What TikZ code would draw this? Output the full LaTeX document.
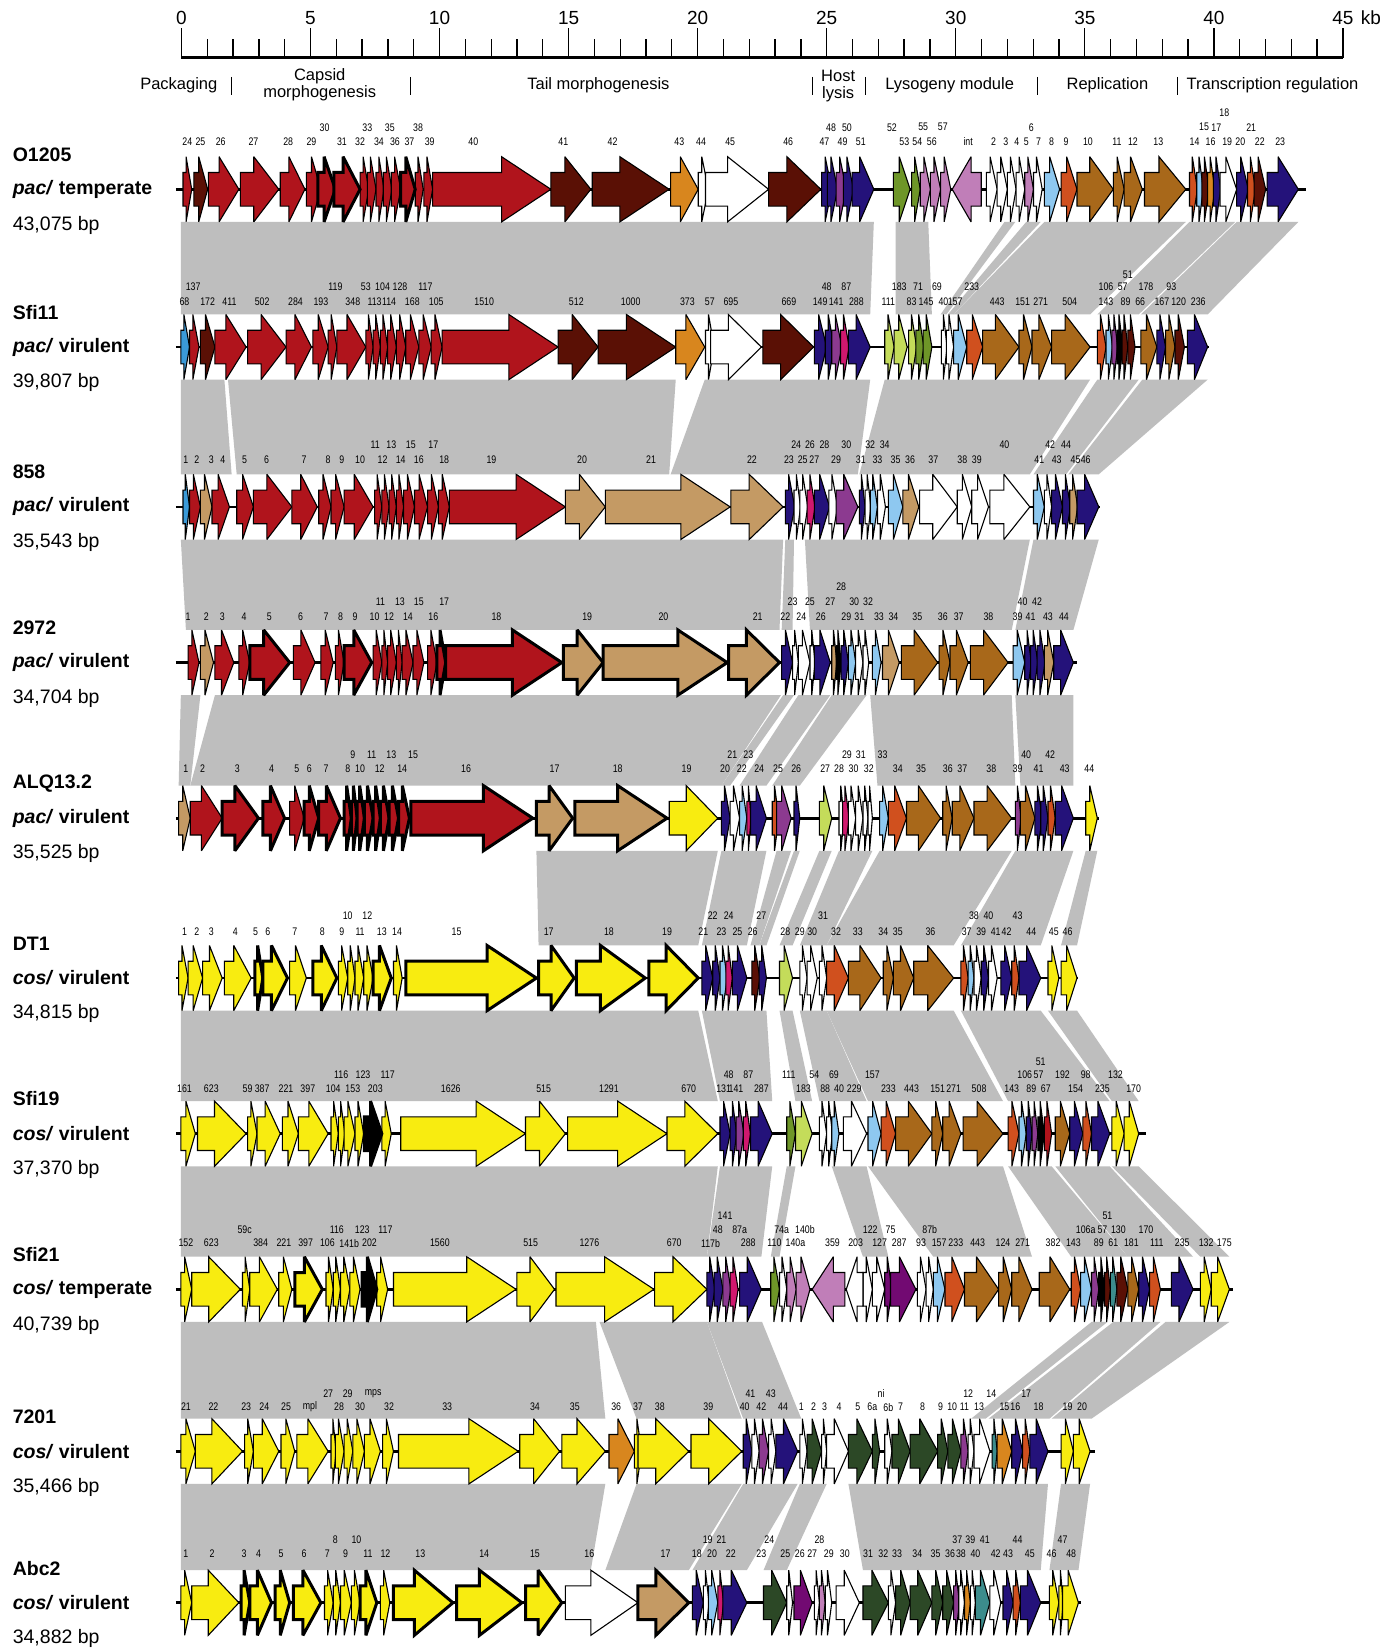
\documentclass[tikz,border=0pt]{standalone}
\usepackage{fontspec}
\setmainfont{Liberation Sans}
\newfontfamily\nfont[FakeStretch=0.8]{Liberation Sans}
\definecolor{cRed}{HTML}{B0141C}
\definecolor{cDred}{HTML}{5A1005}
\definecolor{cOra}{HTML}{D8861E}
\definecolor{cNavy}{HTML}{24127A}
\definecolor{cPur}{HTML}{8C3A90}
\definecolor{cHot}{HTML}{D0186E}
\definecolor{cOli}{HTML}{6E9628}
\definecolor{cLgr}{HTML}{C4DC5A}
\definecolor{cPink}{HTML}{C07EB8}
\definecolor{cLbl}{HTML}{8EC8F0}
\definecolor{cOrr}{HTML}{D0501E}
\definecolor{cBrn}{HTML}{A8681A}
\definecolor{cTan}{HTML}{C49A64}
\definecolor{cYel}{HTML}{F8EC10}
\definecolor{cDgr}{HTML}{2C4826}
\definecolor{cDpur}{HTML}{720A72}
\definecolor{cTeal}{HTML}{3C8C8C}
\definecolor{cBlu}{HTML}{3A9AD8}
\definecolor{cBand}{HTML}{BEBEBE}
\tikzset{
 gene/.style={line width=1.1pt, line join=miter, miter limit=3},
 tgene/.style={line width=3pt, line join=miter, miter limit=3},
 bbone/.style={line width=2.6pt},
 lbl/.style={font=\nfont\fontsize{11}{11}\selectfont, inner sep=0pt},
 rname/.style={anchor=west, inner sep=0pt, font=\fontsize{19.5}{20}\selectfont\bfseries},
 rsize/.style={anchor=west, inner sep=0pt, font=\fontsize{19.5}{20}\selectfont},
 modl/.style={inner sep=0pt, align=center, font=\fontsize{16.5}{17}\selectfont},
 scl/.style={inner sep=0pt, font=\fontsize{19}{19}\selectfont},
}
\newcommand\geneR[4][gene]{%
 \pgfmathsetmacro\gH{min(0.65*(#3-#2),68)}%
 \pgfmathsetmacro\gB{#3-\gH}%
 \draw[#1, fill=#4] (#2,-16) -- (\gB,-16) -- (\gB,-31) -- (#3,0) -- (\gB,31) -- (\gB,16) -- (#2,16) -- cycle;}
\newcommand\geneL[3]{%
 \pgfmathsetmacro\gH{min(0.65*(#2-#1),68)}%
 \pgfmathsetmacro\gB{#1+\gH}%
 \draw[gene, fill=#3] (#2,-16) -- (\gB,-16) -- (\gB,-31) -- (#1,0) -- (\gB,31) -- (\gB,16) -- (#2,16) -- cycle;}
\newcommand\band[6]{\fill[cBand] (#3,#1) -- (#4,#1) -- (#6,#2) -- (#5,#2) -- cycle;}
\newcommand\labs[3]{\foreach \lx/\lt in {#3} {\node[lbl] at (\lx,#1) {\lt};}}
\begin{document}
\begin{tikzpicture}[x=1.0519pt, y=-1.0519pt]
\fill[white] (0,0) rectangle (1329,1568);
\useasboundingbox (0,0) rectangle (1329,1568);
% row names
\foreach \R/\nm/\ty/\ls/\sz in {180/O1205/pac/temperate/{43,075 bp}, 330/Sfi11/pac/virulent/{39,807 bp}, 482/858/pac/virulent/{35,543 bp}, 630/2972/pac/virulent/{34,704 bp}, 778/ALQ13.2/pac/virulent/{35,525 bp}, 930/DT1/cos/virulent/{34,815 bp}, 1078/Sfi19/cos/virulent/{37,370 bp}, 1226/Sfi21/cos/temperate/{40,739 bp}, 1380/7201/cos/virulent/{35,466 bp}, 1524/Abc2/cos/virulent/{34,882 bp}} {
 \node[rname] (n\nm) at (12,\R-33) {\nm};
 \node[rname] (t\nm) at (12,\R) {\textit{\ty/} \ls};
 \node[rsize] (s\nm) at (12,\R+34) {\sz};
}
% module labels
\node[modl] (mPack) at (170,81) {Packaging};
\node[modl] (mCaps) at (304,81) {Capsid\\morphogenesis};
\node[modl] (mTail) at (569,81) {Tail morphogenesis};
\node[modl] (mHost) at (797,82) {Host\\lysis};
\node[modl] (mLys) at (903,81) {Lysogeny module};
\node[modl] (mRep) at (1053,81) {Replication};
\node[modl] (mTr) at (1210,81) {Transcription regulation};
\foreach \sx in {220,390,773,823,987,1120} {\draw[line width=1pt] (\sx,73) -- (\sx,90);}
\begin{scope}[shift={(161.6,0)}, xscale=0.69]
% scale bar
\draw[line width=3.2pt] (15.8,55) -- (1616.5,55);
\foreach \k in {0,...,45} {
 \pgfmathsetmacro\kx{15.8+35.57*\k}
 \pgfmathtruncatemacro\km{mod(\k,5)}
 \ifnum\km=0 \draw[line width=1.3pt] (\kx,55) -- (\kx,27);
 \else \draw[line width=1.3pt] (\kx,55) -- (\kx,37); \fi
}
\foreach \k in {0,5,...,45} {\node[scl] at (15.8+35.57*\k,17) {\k};}
\node[scl, anchor=west] at (1641,17) {kb};
% ---------------- bands
\foreach \pa/\pb/\pc/\pd in {15/970/15/965, 1000/1045/1000/1050, 1150/1165/1062/1070, 1180/1200/1072/1080, 1205/1400/1080/1268, 1405/1468/1278/1335, 1470/1555/1338/1430} {\band{211}{299}{\pa}{\pb}{\pc}{\pd}}
\foreach \pa/\pb/\pc/\pd in {15/75/15/85, 80/697/92/688, 737/965/690/948, 985/1268/950/1185, 1278/1335/1190/1235, 1340/1430/1238/1280} {\band{361}{451}{\pa}{\pb}{\pc}{\pd}}
\foreach \pa/\pb/\pc/\pd in {15/845/22/840, 848/860/843/858, 875/1185/882/1160, 1190/1280/1165/1245} {\band{513}{599}{\pa}{\pb}{\pc}{\pd}}
\foreach \pa/\pb/\pc/\pd in {15/42/12/28, 62/842/28/760, 845/860/760/772, 866/910/785/822, 912/960/830/868, 965/1160/975/1165, 1165/1245/1172/1245} {\band{661}{747}{\pa}{\pb}{\pc}{\pd}}
\foreach \pa/\pb/\pc/\pd in {505/755/508/728, 760/822/733/795, 836/856/800/812, 860/868/812/822, 895/912/840/858, 922/968/868/905, 978/1160/905/1080, 1165/1245/1090/1200, 1262/1278/1228/1250} {\band{809}{899}{\pa}{\pb}{\pc}{\pd}}
\foreach \pa/\pb/\pc/\pd in {15/728/15/755, 733/822/758/830, 840/858/862/885, 868/905/895/960, 905/1080/962/1148, 1090/1200/1155/1295, 1210/1250/1298/1335} {\band{961}{1047}{\pa}{\pb}{\pc}{\pd}}
\foreach \pa/\pb/\pc/\pd in {15/755/15/740, 758/830/740/815, 850/862/828/840, 912/960/955/990, 962/1148/1052/1188, 1155/1215/1242/1320, 1220/1295/1320/1410, 1298/1335/1420/1460} {\band{1109}{1195}{\pa}{\pb}{\pc}{\pd}}
\foreach \pa/\pb/\pc/\pd in {15/587/15/600, 592/740/643/788, 740/816/790/870, 1270/1292/1104/1124, 1300/1365/1128/1212, 1372/1460/1215/1270} {\band{1257}{1349}{\pa}{\pb}{\pc}{\pd}}
\foreach \pa/\pb/\pc/\pd in {15/600/15/580, 643/788/600/715, 790/865/720/795, 868/905/818/850, 935/1210/955/1200, 1228/1268/1212/1252} {\band{1411}{1493}{\pa}{\pb}{\pc}{\pd}}
% ---------------- Row 1 O1205
\begin{scope}[shift={(0,180)}]
\draw[bbone] (8,0) -- (1565,0);
\foreach \s/\e/\cl in {18/30/cRed, 33/52/cDred, 53/95/cRed, 97/150/cRed, 152/186/cRed, 188/208/cRed, 262/274/cRed, 272/284/cRed, 284/295/cRed, 294/306/cRed, 305/318/cRed, 338/349/cRed, 350/362/cRed, 362/525/cRed, 525/580/cDred, 582/688/cDred, 690/728/cOra, 728/742/white, 738/825/white, 825/897/cDred, 898/912/cNavy, 906/920/cNavy, 918/932/cPur, 928/942/cNavy, 940/970/cNavy, 997/1020/cOli, 1022/1034/cOli, 1034/1048/cPink, 1048/1062/cPink, 1062/1076/cPink, 1125/1140/white, 1140/1154/white, 1154/1166/white, 1166/1178/white, 1178/1190/cPink, 1190/1202/white, 1205/1226/cLbl, 1228/1250/cOrr, 1250/1300/cBrn, 1300/1315/cBrn, 1315/1340/cBrn, 1343/1400/cBrn, 1405/1416/cOrr, 1415/1424/cLbl, 1422/1432/cDred, 1430/1440/cOra, 1438/1448/cNavy, 1447/1470/white, 1470/1486/cNavy, 1485/1496/cOrr, 1494/1510/cDred, 1512/1555/cNavy} {\geneR{\s}{\e}{\cl}}
\geneL{1078}{1118}{cPink}
\foreach \s/\e/\cl in {204/228/cRed, 226/262/cRed, 318/338/cRed} {\geneR[tgene]{\s}{\e}{\cl}}
\labs{-45}{}{24/24, 42/25, 70/26, 115/27, 163/28, 195/29, 237/31, 262/32, 288/34, 310/36, 330/37, 358/39, 418/40, 542/41, 610/42, 702/43, 732/44, 772/45, 852/46, 902/47, 927/49, 952/51, 1012/53, 1030/54, 1050/56, 1100/int, 1135/2, 1152/3, 1167/4, 1180/5, 1197/7, 1215/8, 1235/9, 1265/10, 1305/11, 1327/12, 1362/13, 1412/14, 1434/16, 1457/19, 1475/20, 1502/22, 1530/23}
\labs{-59}{}{213/30, 272/33, 303/35, 342/38, 911/48, 933/50, 995/52, 1038/55, 1065/57, 1187/6, 1425/15, 1442/17, 1490/21}
\labs{-73}{}{1453/18}
\end{scope}
% ---------------- Row 2 Sfi11
\begin{scope}[shift={(0,330)}]
\draw[bbone] (8,0) -- (1432,0);
\foreach \s/\e/\cl in {15/27/cBlu, 27/40/cRed, 42/62/cDred, 62/105/cRed, 107/160/cRed, 160/195/cRed, 197/218/cRed, 218/230/cRed, 230/270/cRed, 270/280/cRed, 280/290/cRed, 290/300/cRed, 300/312/cRed, 312/325/cRed, 325/343/cRed, 343/360/cRed, 360/375/cRed, 375/535/cRed, 535/590/cDred, 590/697/cDred, 697/737/cOra, 738/750/white, 745/815/white, 817/887/cDred, 888/905/cNavy, 903/915/cNavy, 912/926/cPur, 924/936/cHot, 935/965/cNavy, 985/998/cLgr, 998/1016/cLgr, 1018/1029/cLgr, 1028/1039/cOli, 1038/1050/cOli, 1063/1071/white, 1070/1080/white, 1080/1098/cLbl, 1098/1120/cOrr, 1120/1170/cBrn, 1170/1188/cBrn, 1188/1215/cBrn, 1215/1268/cBrn, 1278/1290/cOrr, 1290/1299/cLbl, 1298/1306/cPur, 1305/1313/black, 1312/1320/cDred, 1320/1330/cDred, 1338/1360/cBrn, 1360/1372/cNavy, 1372/1385/cBrn, 1385/1398/cDred, 1402/1430/cNavy} {\geneR{\s}{\e}{\cl}}
\labs{-43}{}{20/68, 52/172, 82/411, 127/502, 173/284, 208/193, 252/348, 282/113, 302/114, 334/168, 367/105, 433/1510, 560/512, 635/1000, 713/373, 744/57, 773/695, 853/669, 896/149, 918/141, 946/288, 990/111, 1022/83, 1042/145, 1066/40, 1082/157, 1140/443, 1175/151, 1200/271, 1240/504, 1290/143, 1317/89, 1337/66, 1367/167, 1390/120, 1417/236}
\labs{-57}{}{32/137, 228/119, 270/53, 293/104, 317/128, 352/117, 905/48, 932/87, 1005/183, 1031/71, 1057/69, 1105/233, 1290/106, 1313/57, 1345/178, 1380/93}
\labs{-69}{}{1320/51}
\end{scope}
% ---------------- Row 3 858
\begin{scope}[shift={(0,482)}]
\draw[bbone] (8,0) -- (1282,0);
\foreach \s/\e/\cl in {18/27/cBlu, 27/42/cRed, 42/58/cTan, 58/82/cRed, 92/115/cRed, 115/168/cRed, 168/203/cRed, 205/222/cRed, 222/240/cRed, 240/280/cRed, 282/292/cRed, 292/302/cRed, 302/312/cRed, 312/322/cRed, 322/337/cRed, 337/355/cRed, 355/370/cRed, 370/385/cRed, 385/545/cRed, 545/600/cTan, 600/772/cTan, 773/845/cTan, 848/861/cNavy, 860/869/white, 868/879/white, 878/889/cHot, 888/909/cNavy, 908/920/white, 918/948/cPur, 950/958/cNavy, 958/966/white, 965/975/cLbl, 975/986/white, 990/1010/cLbl, 1010/1032/cTan, 1033/1085/white, 1085/1105/white, 1105/1128/white, 1130/1185/white, 1190/1205/cLbl, 1205/1215/white, 1215/1230/cNavy, 1230/1241/cNavy, 1240/1251/cTan, 1250/1280/cNavy} {\geneR{\s}{\e}{\cl}}
\labs{-45}{}{22/1, 37/2, 57/3, 73/4, 103/5, 133/6, 185/7, 218/8, 237/9, 262/10, 293/12, 318/14, 343/16, 378/18, 443/19, 568/20, 663/21, 802/22, 853/23, 872/25, 888/27, 918/29, 952/31, 975/33, 1000/35, 1020/36, 1052/37, 1092/38, 1112/39, 1198/41, 1222/43, 1248/45, 1262/46}
\labs{-59}{}{283/11, 305/13, 332/15, 363/17, 863/24, 882/26, 902/28, 932/30, 965/32, 985/34, 1150/40, 1213/42, 1235/44}
\end{scope}
% ---------------- Row 4 2972
\begin{scope}[shift={(0,630)}]
\draw[bbone] (8,0) -- (1250,0);
\foreach \s/\e/\cl in {25/40/cRed, 42/60/cTan, 62/88/cRed, 95/110/cRed, 170/200/cRed, 208/225/cRed, 228/240/cRed, 280/292/cRed, 292/300/cRed, 300/312/cRed, 312/320/cRed, 320/335/cRed, 335/350/cRed, 355/368/cRed, 843/858/cNavy, 858/866/white, 866/882/white, 882/889/white, 888/910/cNavy, 912/919/cTan, 918/925/black, 925/935/cNavy, 935/945/cLbl, 945/955/white, 955/963/white, 968/980/cLbl, 982/1005/cTan, 1008/1058/cBrn, 1060/1075/cBrn, 1075/1100/cBrn, 1103/1155/cBrn, 1162/1178/cLbl, 1178/1187/cNavy, 1186/1196/cNavy, 1195/1206/cNavy, 1205/1218/cTan, 1218/1245/cNavy} {\geneR{\s}{\e}{\cl}}
\foreach \s/\e/\cl in {110/165/cRed, 240/278/cRed, 368/380/cRed, 380/540/cRed, 542/597/cTan, 597/768/cTan, 770/840/cTan} {\geneR[tgene]{\s}{\e}{\cl}}
\labs{-44}{}{25/1, 50/2, 72/3, 102/4, 137/5, 180/6, 215/7, 235/8, 255/9, 282/10, 302/12, 328/14, 363/16, 450/18, 575/19, 680/20, 810/21, 848/22, 870/24, 897/26, 932/29, 950/31, 977/33, 997/34, 1030/35, 1065/36, 1087/37, 1128/38, 1168/39, 1186/41, 1210/43, 1232/44}
\labs{-58}{}{290/11, 317/13, 343/15, 378/17, 858/23, 882/25, 910/27, 943/30, 962/32, 1175/40, 1195/42}
\labs{-72}{}{925/28}
\end{scope}
% ---------------- Row 5 ALQ13.2
\begin{scope}[shift={(0,778)}]
\draw[bbone] (8,0) -- (1280,0);
\foreach \s/\e/\cl in {12/28/cTan, 28/72/cRed, 165/185/cRed, 688/755/cYel, 760/772/cNavy, 772/785/white, 785/795/cLbl, 795/801/cHot, 800/822/cNavy, 830/839/cOrr, 836/856/cPur, 860/868/cNavy, 895/912/cLgr, 922/929/white, 927/936/cHot, 935/945/white, 945/955/white, 955/962/white, 962/968/white, 978/990/cLbl, 990/1015/cOrr, 1015/1062/cBrn, 1065/1078/cBrn, 1078/1108/cBrn, 1108/1160/cBrn, 1165/1173/cPur, 1172/1192/cBrn, 1192/1202/cNavy, 1200/1210/cNavy, 1210/1220/cOrr, 1220/1245/cNavy, 1262/1278/cYel} {\geneR{\s}{\e}{\cl}}
\foreach \s/\e/\cl in {72/122/cRed, 128/158/cRed, 185/205/cRed, 205/235/cRed, 240/250/cRed, 250/258/cRed, 258/268/cRed, 268/280/cRed, 280/290/cRed, 290/302/cRed, 302/315/cRed, 315/330/cRed, 332/500/cRed, 505/555/cTan, 558/685/cTan} {\geneR[tgene]{\s}{\e}{\cl}}
\labs{-47}{}{22/1, 45/2, 93/3, 140/4, 175/5, 192/6, 215/7, 245/8, 262/10, 289/12, 320/14, 408/16, 530/17, 617/18, 712/19, 765/20, 788/22, 812/24, 838/25, 863/26, 903/27, 922/28, 942/30, 963/32, 1003/34, 1035/35, 1072/36, 1092/37, 1132/38, 1168/39, 1197/41, 1233/43, 1267/44}
\labs{-60}{}{252/9, 278/11, 305/13, 335/15, 775/21, 797/23, 933/29, 952/31, 982/33, 1180/40, 1213/42}
\end{scope}
% ---------------- Row 6 DT1
\begin{scope}[shift={(0,930)}]
\draw[bbone] (8,0) -- (1252,0);
\foreach \s/\e/\cl in {12/25/cYel, 25/45/cYel, 45/72/cYel, 75/112/cYel, 165/188/cYel, 232/245/cYel, 245/255/cYel, 255/267/cYel, 267/280/cYel, 308/320/cYel, 733/748/cNavy, 748/758/cNavy, 758/768/cLbl, 766/775/cHot, 775/795/cNavy, 802/813/cDred, 812/822/cNavy, 840/858/cLgr, 868/878/white, 878/892/white, 895/905/white, 905/935/cOrr, 935/980/cBrn, 983/997/cBrn, 997/1025/cBrn, 1025/1080/cBrn, 1090/1100/cOrr, 1100/1108/cLbl, 1108/1118/white, 1118/1128/cNavy, 1128/1140/white, 1145/1160/cNavy, 1160/1170/cOrr, 1170/1200/cNavy, 1210/1225/cYel, 1228/1250/cYel} {\geneR{\s}{\e}{\cl}}
\foreach \s/\e/\cl in {117/128/cYel, 128/162/cYel, 197/230/cYel, 280/305/cYel, 325/505/cYel, 508/557/cYel, 560/655/cYel, 660/728/cYel} {\geneR[tgene]{\s}{\e}{\cl}}
\labs{-44}{}{20/1, 37/2, 57/3, 90/4, 118/5, 135/6, 172/7, 210/8, 237/9, 262/11, 292/13, 313/14, 395/15, 522/17, 605/18, 685/19, 735/21, 760/23, 782/25, 803/26, 848/28, 868/29, 885/30, 918/32, 948/33, 983/34, 1003/35, 1048/36, 1098/37, 1118/39, 1138/41, 1153/42, 1187/44, 1218/45, 1237/46}
\labs{-59}{}{245/10, 272/12, 748/22, 770/24, 815/27, 900/31, 1108/38, 1128/40, 1168/43}
\end{scope}
% ---------------- Row 7 Sfi19
\begin{scope}[shift={(0,1078)}]
\draw[bbone] (8,0) -- (1345,0);
\foreach \s/\e/\cl in {15/35/cYel, 38/105/cYel, 107/120/cYel, 120/152/cYel, 155/177/cYel, 177/218/cYel, 222/232/cYel, 232/241/cYel, 240/255/cYel, 255/267/cYel, 292/305/cYel, 318/490/cYel, 490/545/cYel, 548/685/cYel, 685/755/cYel, 758/772/cNavy, 772/781/cNavy, 780/791/cPur, 790/800/cHot, 800/830/cNavy, 850/862/cOli, 862/885/cLgr, 895/905/white, 905/913/white, 912/922/cLbl, 928/960/white, 962/980/cLbl, 980/1000/cOrr, 1000/1050/cBrn, 1050/1065/cBrn, 1065/1090/cBrn, 1093/1148/cBrn, 1155/1170/cOrr, 1170/1180/cLbl, 1180/1188/cNavy, 1188/1196/cPur, 1196/1205/black, 1205/1215/cRed, 1220/1240/cBrn, 1240/1258/cNavy, 1258/1270/cOrr, 1270/1295/cNavy, 1298/1315/cYel, 1315/1335/cYel} {\geneR{\s}{\e}{\cl}}
\geneR[tgene]{268}{292}{black}
\labs{-43}{}{20/161, 57/623, 107/59, 127/387, 160/221, 190/397, 225/104, 252/153, 283/203, 387/1626, 515/515, 605/1291, 715/670, 763/131, 780/141, 815/287, 873/183, 903/88, 922/40, 943/229, 990/233, 1022/443, 1058/151, 1080/271, 1115/508, 1160/143, 1187/89, 1207/67, 1248/154, 1285/235, 1328/170}
\labs{-56}{}{236/116, 266/123, 300/117, 770/48, 797/87, 853/111, 888/54, 915/69, 968/157, 1178/106, 1197/57, 1230/192, 1262/98, 1303/132}
\labs{-68}{}{1200/51}
\end{scope}
% ---------------- Row 8 Sfi21
\begin{scope}[shift={(0,1226)}]
\draw[bbone] (8,0) -- (1465,0);
\foreach \s/\e/\cl in {15/30/cYel, 30/97/cYel, 100/110/cYel, 110/148/cYel, 150/168/cYel, 215/225/cYel, 225/235/cYel, 235/248/cYel, 248/262/cYel, 285/300/cYel, 308/477/cYel, 478/530/cYel, 532/667/cYel, 668/740/cYel, 740/751/cNavy, 750/762/cNavy, 762/773/cPur, 772/783/cHot, 785/815/cNavy, 828/840/cOli, 840/850/white, 850/863/cPink, 863/882/cPink, 955/968/white, 968/985/white, 985/995/cDpur, 993/1028/cDpur, 1030/1042/white, 1042/1052/white, 1052/1068/cLbl, 1068/1095/cOrr, 1095/1142/cBrn, 1142/1160/cBrn, 1160/1188/cBrn, 1198/1240/cBrn, 1242/1255/cOrr, 1255/1270/cLbl, 1270/1280/cPur, 1280/1288/black, 1288/1296/cDred, 1296/1305/cTeal, 1305/1320/cDred, 1320/1335/cBrn, 1335/1350/cNavy, 1350/1365/cOrr, 1380/1410/cNavy, 1420/1435/cYel, 1435/1460/cYel} {\geneR{\s}{\e}{\cl}}
\geneL{885}{930}{cPink}
\geneL{932}{955}{white}
\foreach \s/\e/\cl in {172/210/cYel, 265/285/black} {\geneR[tgene]{\s}{\e}{\cl}}
\labs{-44}{}{22/152, 57/623, 125/384, 157/221, 187/397, 217/106, 247/141b, 275/202, 372/1560, 497/515, 578/1276, 695/670, 745/117b, 797/288, 833/110, 862/140a, 913/359, 945/203, 978/127, 1005/287, 1035/93, 1060/157, 1083/233, 1113/443, 1148/124, 1175/271, 1217/382, 1245/143, 1280/89, 1300/61, 1325/181, 1360/111, 1395/235, 1428/132, 1453/175}
\labs{-57}{}{103/59c, 230/116, 265/123, 297/117, 755/48, 785/87a, 843/74a, 875/140b, 965/122, 993/75, 1047/87b, 1262/106a, 1285/57, 1307/130, 1345/170}
\labs{-70}{}{765/141, 1292/51}
\end{scope}
% ---------------- Row 9 7201
\begin{scope}[shift={(0,1380)}]
\draw[bbone] (8,0) -- (1275,0);
\foreach \s/\e/\cl in {15/35/cYel, 35/100/cYel, 103/115/cYel, 115/150/cYel, 153/172/cYel, 175/218/cYel, 222/229/cYel, 228/240/cYel, 240/252/cYel, 252/268/cYel, 268/290/cYel, 293/308/cYel, 315/480/cYel, 482/537/cYel, 540/600/cYel, 605/640/cOra, 640/650/cYel, 645/715/cYel, 718/788/cYel, 790/802/cNavy, 802/812/white, 812/825/cPur, 825/835/white, 835/865/cNavy, 868/878/white, 878/898/cDgr, 898/905/white, 905/935/white, 935/968/cDgr, 968/978/cDgr, 985/995/white, 995/1020/cDgr, 1020/1058/cDgr, 1058/1072/cDgr, 1072/1090/cDgr, 1090/1100/cPur, 1100/1108/white, 1108/1130/white, 1133/1140/cTeal, 1140/1160/cOra, 1160/1175/cNavy, 1175/1185/cOrr, 1185/1210/cNavy, 1228/1245/cYel, 1245/1268/cYel} {\geneR{\s}{\e}{\cl}}
\labs{-42}{}{22/21, 60/22, 105/23, 130/24, 160/25, 193/mpl, 233/28, 262/30, 302/32, 382/33, 503/34, 558/35, 615/36, 645/37, 675/38, 742/39, 792/40, 815/42, 845/44, 870/1, 887/2, 902/3, 922/4, 948/5, 968/6a, 990/6b, 1007/7, 1037/8, 1062/9, 1078/10, 1095/11, 1115/13, 1150/15, 1165/16, 1197/18, 1237/19, 1257/20}
\labs{-55}{}{218/27, 245/29, 280/mps, 800/41, 828/43, 980/ni, 1100/12, 1132/14, 1180/17}
\end{scope}
% ---------------- Row 10 Abc2
\begin{scope}[shift={(0,1524)}]
\draw[bbone] (8,0) -- (1255,0);
\foreach \s/\e/\cl in {15/30/cYel, 30/95/cYel, 213/225/cYel, 225/235/cYel, 235/250/cYel, 250/262/cYel, 290/303/cYel, 545/645/white, 720/735/cNavy, 735/743/white, 742/755/cLbl, 755/763/cHot, 762/795/cNavy, 818/850/cDgr, 850/858/white, 860/885/cDpur, 888/895/white, 895/903/cPink, 903/912/white, 918/950/white, 955/990/cDgr, 990/1000/white, 1000/1020/cDgr, 1020/1050/cDgr, 1050/1065/cDgr, 1065/1080/cDgr, 1080/1088/cPur, 1087/1095/white, 1095/1103/cOra, 1103/1110/white, 1110/1130/cTeal, 1130/1145/white, 1148/1162/cNavy, 1162/1172/cOrr, 1172/1200/cNavy, 1212/1225/cYel, 1225/1231/cYel, 1230/1252/cYel} {\geneR{\s}{\e}{\cl}}
\foreach \s/\e/\cl in {98/110/cYel, 110/140/cYel, 145/165/cYel, 170/208/cYel, 262/285/cYel, 308/390/cYel, 395/485/cYel, 490/540/cYel, 645/715/cTan} {\geneR[tgene]{\s}{\e}{\cl}}
\labs{-47}{}{22/1, 58/2, 102/3, 122/4, 153/5, 185/6, 217/7, 242/9, 273/11, 297/12, 345/13, 433/14, 503/15, 578/16, 683/17, 726/18, 747/20, 773/22, 815/23, 848/25, 868/26, 885/27, 908/29, 930/30, 962/31, 983/32, 1002/33, 1030/34, 1055/35, 1075/36, 1090/38, 1110/40, 1138/42, 1155/43, 1185/45, 1215/46, 1242/48}
\labs{-60}{}{228/8, 257/10, 741/19, 760/21, 826/24, 895/28, 1085/37, 1103/39, 1123/41, 1168/44, 1230/47}
\end{scope}
\end{scope}
\end{tikzpicture}
\end{document}
